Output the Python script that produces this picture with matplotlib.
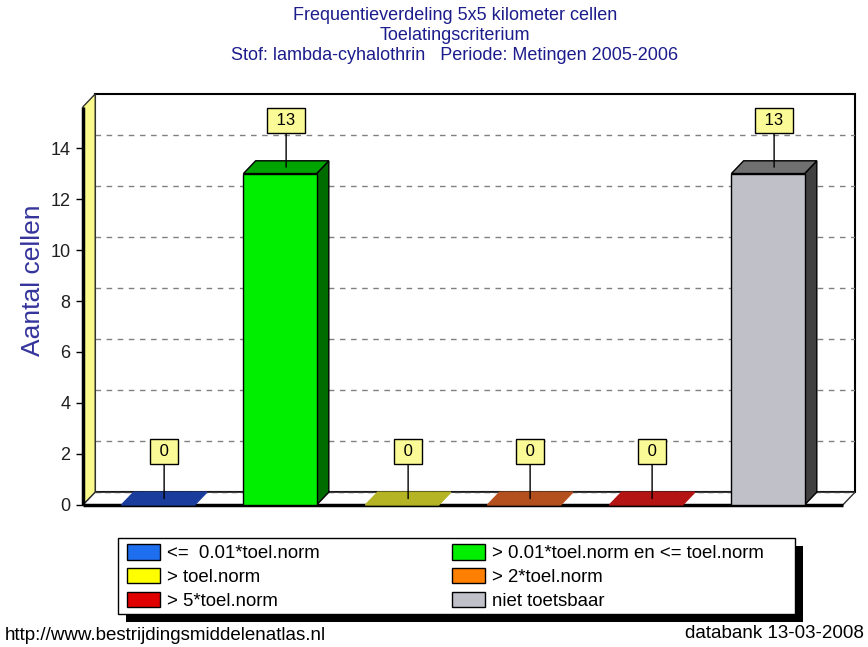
import matplotlib
matplotlib.use('Agg')
import matplotlib.pyplot as plt
from matplotlib.patches import Polygon, Patch, Rectangle

plt.rcParams['font.family'] = ['Liberation Sans', 'DejaVu Sans']

# data
categories = ['<=  0.01*toel.norm', '> 0.01*toel.norm en <= toel.norm', '> toel.norm',
              '> 2*toel.norm', '> 5*toel.norm', 'niet toetsbaar']
counts = [0, 13, 0, 0, 0, 13]
yticks = [0, 2, 4, 6, 8, 10, 12, 14]
title_lines = ['Frequentieverdeling 5x5 kilometer cellen',
               'Toelatingscriterium',
               'Stof: lambda-cyhalothrin   Periode: Metingen 2005-2006']

# styles
face_cols = ['#1e6ef0', '#00ee00', '#ffff00', '#ff8000', '#e00000', '#c0c0c8']
top_cols = ['#1a3c9c', '#00a400', '#b4b424', '#b4501e', '#b41414', '#707070']
side_cols = ['#10286a', '#006c00', '#787810', '#783410', '#780a0a', '#404040']

W, H = 868, 647
fig = plt.figure(figsize=(W / 100, H / 100), dpi=100)

# axes covering the plot box (px 83..855 x, 94..507 y)
ax = fig.add_axes([83 / W, 1 - 507 / H, (855 - 83) / W, (507 - 94) / H])
XL, XR = -0.615, 5.713
YB, YT = -0.08, 16.12
DX, DY = 0.1, 0.5
BW = 0.6
ax.set_xlim(XL, XR)
ax.set_ylim(YB, YT)
for s in ax.spines.values():
    s.set_visible(False)
ax.set_xticks([])
ax.set_yticks(yticks)
ax.tick_params(axis='y', length=5, width=1, direction='out', labelsize=13, pad=4,
               labelcolor='#202020')
ax.patch.set_alpha(0)

top_front = YT - DY

# back wall
ax.add_patch(Polygon([(XL + DX, DY), (XL + DX, YT), (XR, YT), (XR, DY)],
                     closed=True, fc='white', ec='black', lw=1.5, zorder=1, clip_on=False))
# gridlines on back wall
for v in yticks[1:]:
    ax.plot([XL + DX, XR], [v + DY, v + DY], color='#808080', lw=1,
            dashes=(4, 4), zorder=2)
# left wall
ax.add_patch(Polygon([(XL, 0), (XL, top_front), (XL + DX, YT), (XL + DX, DY)],
                     closed=True, fc='#fafa8c', ec='#303030', lw=1, zorder=3, clip_on=False))
# floor
ax.add_patch(Polygon([(XL, 0), (XR - DX, 0), (XR, DY), (XL + DX, DY)],
                     closed=True, fc='white', ec='#303030', lw=1, zorder=3, clip_on=False))
ax.plot([XL + DX, XR], [DY, DY], color='#404040', lw=1, dashes=(4, 3), zorder=4)
# thick front axis lines
ax.plot([XL, XL], [0, top_front], color='black', lw=2.5, zorder=5, clip_on=False,
        solid_capstyle='butt')
ax.plot([XL, XR - DX], [0, 0], color='black', lw=2.5, zorder=5, clip_on=False,
        solid_capstyle='butt')

# bars
for i, v in enumerate(counts):
    x0, x1 = i - BW / 2, i + BW / 2
    if v > 0:
        ax.add_patch(Polygon([(x1, 0), (x1, v), (x1 + DX, v + DY), (x1 + DX, DY)],
                             closed=True, fc=side_cols[i], ec='black', lw=1, zorder=6))
        ax.add_patch(Polygon([(x0, 0), (x1, 0), (x1, v), (x0, v)],
                             closed=True, fc=face_cols[i], ec='black', lw=1, zorder=7))
    ax.add_patch(Polygon([(x0, v), (x1, v), (x1 + DX, v + DY), (x0 + DX, v + DY)],
                         closed=True, fc=top_cols[i], ec='black' if v > 0 else top_cols[i],
                         lw=1, zorder=7, clip_on=False))
    ax.annotate(' %d ' % v, xy=(i + DX / 2, v + DY / 2), xytext=(0, 47),
                textcoords='offset pixels', ha='center', va='center', fontsize=12,
                bbox=dict(boxstyle='square,pad=0.3', fc='#fafa96', ec='black', lw=1),
                arrowprops=dict(arrowstyle='-', color='black', lw=1, shrinkA=0, shrinkB=0),
                zorder=8)

# titles
for k, line in enumerate(title_lines):
    fig.text(455 / W, 1 - (15 + 20.5 * k) / H, line, ha='center', va='center',
             fontsize=13, color='#1c1c8c')

fig.text(33 / W, 1 - 280 / H, 'Aantal cellen', rotation=90, ha='center', va='center',
         fontsize=19, color='#34349c')

# legend: frame with shadow, then two columns
fig.add_artist(Rectangle((126 / W, 1 - 622 / H), (795 - 118) / W, 76 / H,
                         transform=fig.transFigure, fc='black', ec='none', zorder=1))
fig.add_artist(Rectangle((118 / W, 1 - 614 / H), (795 - 118) / W, 76 / H,
                         transform=fig.transFigure, fc='white', ec='black', lw=1, zorder=2))
columns = [([0, 2, 4], 127), ([1, 3, 5], 452)]
for idx, xpx in columns:
    handles = [Patch(fc=face_cols[j], ec='black', lw=1, label=categories[j]) for j in idx]
    leg = fig.legend(handles=handles, loc='center left',
                     bbox_to_anchor=(xpx / W, 1 - 577 / H), frameon=False,
                     fontsize=13.4, handlelength=1.75, handleheight=0.9,
                     handletextpad=0.4, labelspacing=0.3, borderpad=0,
                     borderaxespad=0)
    leg.set_zorder(3)

fig.text(5 / W, 1 - 635 / H, 'http://www.bestrijdingsmiddelenatlas.nl', ha='left',
         va='center', fontsize=13.5)
fig.text(864 / W, 1 - 633 / H, 'databank 13-03-2008', ha='right', va='center',
         fontsize=13.5)

fig.savefig('out.png', dpi=100)
